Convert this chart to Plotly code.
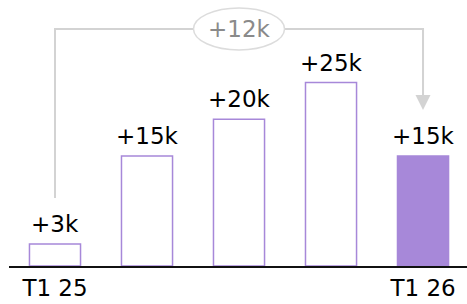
import plotly.graph_objects as go

categories = ["T1 25", "Q2", "Q3", "Q4", "T1 26"]
values = [3, 15, 20, 25, 15]
bar_labels = ["+3k", "+15k", "+20k", "+25k", "+15k"]
tick_positions = [0, 4]
tick_labels = ["T1 25", "T1 26"]
change_label = "+12k"

PURPLE = "#a788d9"
GREY = "#d3d3d3"
FONT = "DejaVu Sans, Liberation Sans, Arial, sans-serif"
FS = 23

x = list(range(len(values)))
fills = ["white"] * (len(values) - 1) + [PURPLE]

fig = go.Figure()
fig.add_trace(go.Bar(
    x=x, y=values, width=0.555,
    marker=dict(color=fills, line=dict(color=PURPLE, width=1.5)),
    hoverinfo="skip", showlegend=False,
))

# value labels above bars
for xi, v, lab in zip(x, values, bar_labels):
    fig.add_annotation(x=xi, y=v, text=lab, showarrow=False, yanchor="bottom",
                       yshift=5, font=dict(size=FS, color="#000", family=FONT))

# connector from first to last bar
gap = 6.25
top = max(values) + 7.3
first, last = x[0], x[-1]
fig.add_trace(go.Scatter(
    x=[first, first, last, last],
    y=[values[0] + gap, top, top, values[-1] + gap + 2.0],
    mode="lines", line=dict(color=GREY, width=2),
    hoverinfo="skip", showlegend=False,
))
# arrow head
fig.add_shape(type="path", xref="x", yref="y", xsizemode="pixel", ysizemode="pixel",
              xanchor=last, yanchor=values[-1] + gap,
              path="M -7.5 15 L 7.5 15 L 0 0 Z",
              fillcolor=GREY, line=dict(color=GREY, width=0))
# ellipse label
mid = (first + last) / 2
fig.add_shape(type="circle", xref="x", yref="y", xsizemode="pixel", ysizemode="pixel",
              xanchor=mid, yanchor=top, x0=-45.5, x1=45.5, y0=-21, y1=21,
              fillcolor="white", line=dict(color="#dcdcdc", width=1.5))
fig.add_annotation(x=mid, y=top, text=change_label, showarrow=False,
                   font=dict(size=FS, color="#8a8a8a", family=FONT))

fig.update_layout(
    width=467, height=304,
    margin=dict(l=9, r=0, t=0, b=38),
    plot_bgcolor="white", paper_bgcolor="white",
    xaxis=dict(range=[-0.5, 4.478], tickvals=tick_positions, ticktext=tick_labels,
               showgrid=False, zeroline=False, showline=True, linecolor="#111",
               linewidth=2, ticks="", tickfont=dict(size=FS, color="#000", family=FONT)),
    yaxis=dict(range=[0, 36.24], visible=False, showgrid=False, zeroline=False),
    font=dict(family=FONT),
)

fig.write_html("out.html", config={"displayModeBar": False},
               post_script="document.body.style.margin='0';")
